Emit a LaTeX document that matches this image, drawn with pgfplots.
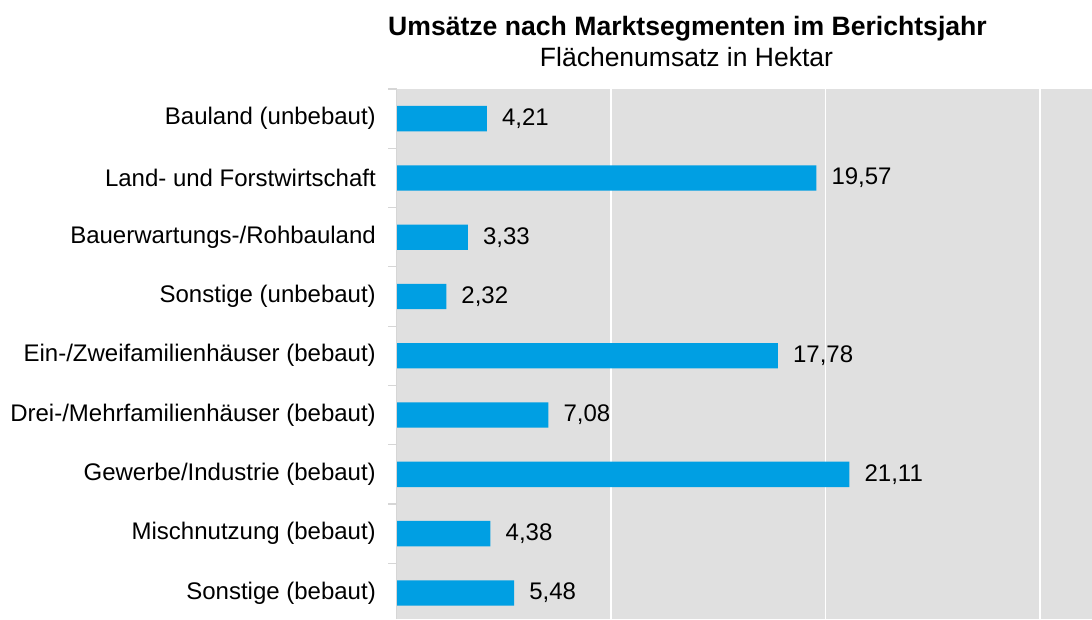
\documentclass[border=0pt]{standalone}
\usepackage{pgfplots}
\pgfplotsset{compat=1.18}
\usepackage{fontspec}
\setmainfont{Liberation Sans}
\definecolor{barblue}{RGB}{0,159,227}
\definecolor{bggray}{RGB}{224,224,224}
\definecolor{axgray}{RGB}{214,214,214}
\begin{document}
\begin{tikzpicture}[x=1pt,y=1pt]
\path[use as bounding box] (0,0) rectangle (1092,619);
\node[anchor=base, inner sep=0pt, font=\fontsize{26.6}{30}\selectfont\bfseries] at (687.5,583) {Umsätze nach Marktsegmenten im Berichtsjahr};
\node[anchor=base, inner sep=0pt, font=\fontsize{26.5}{30}\selectfont] at (686.5,552.5) {Flächenumsatz in Hektar};
\begin{axis}[
  at={(396.5pt,0pt)}, anchor=south west,
  width=695.5pt, height=530pt, scale only axis,
  xbar, bar width=0.427,
  y dir=reverse,
  xmin=0, xmax=32.42,
  ymin=-0.5, ymax=8.44,
  axis background/.style={fill=bggray},
  axis line style={draw=none},
  xtick={10,20,30}, xticklabels={},
  xmajorgrids, major x grid style={white, line width=1.6pt},
  ytick={0,...,8},
  yticklabels={Bauland (unbebaut),Land- und Forstwirtschaft,Bauerwartungs-/Rohbauland,Sonstige (unbebaut),Ein-/Zweifamilienhäuser (bebaut),Drei-/Mehrfamilienhäuser (bebaut),Gewerbe/Industrie (bebaut),Mischnutzung (bebaut),Sonstige (bebaut)},
  yticklabel style={font=\fontsize{24}{28}\selectfont, anchor=east, inner sep=0pt, xshift=-20.5pt},
  major tick length=0pt,
  ytick pos=left,
  extra y ticks={-0.5,0.5,1.5,2.5,3.5,4.5,5.5,6.5,7.5},
  extra y tick labels={},
  extra y tick style={major tick length=8pt, tick align=outside, tick style={axgray, line width=1.2pt}},
  point meta=x,
  nodes near coords={\pgfmathprintnumber[fixed, fixed zerofill, precision=2, use comma, assume math mode=true]{\pgfplotspointmeta}},
  nodes near coords style={anchor=west, inner sep=0pt, xshift=15pt, font=\fontsize{24}{28}\selectfont, text=black},
  extra description/.code={\draw[axgray, line width=1.2pt] (rel axis cs:0,0) -- (rel axis cs:0,1);},
  clip=false,
]
\addplot[fill=barblue, draw=none] coordinates {
(4.21,0) (19.57,1) (3.33,2) (2.32,3) (17.78,4) (7.08,5) (21.11,6) (4.38,7) (5.48,8)
};
\end{axis}
\end{tikzpicture}
\end{document}
